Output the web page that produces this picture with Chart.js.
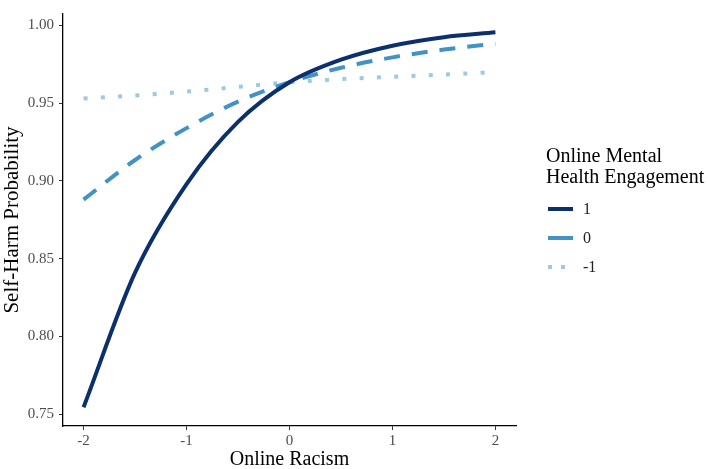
<!DOCTYPE html>
<html>
<head>
<meta charset="utf-8">
<script src="https://cdn.jsdelivr.net/npm/chart.js@4.4.1/dist/chart.umd.min.js"></script>
<style>
  html, body { margin: 0; padding: 0; background: #fff; }
  #wrap { width: 708px; height: 469px; position: relative; }
</style>
</head>
<body>
<div id="wrap"><canvas id="chart"></canvas></div>
<script>
// values
const racism = [-2, -1.5, -1, -0.5, 0, 0.5, 1, 1.5, 2];
const engagementHigh = [0.7545, 0.841, 0.898, 0.938, 0.9635, 0.978, 0.987, 0.9925, 0.9956];
const engagementMid = [0.888, 0.9135, 0.934, 0.951, 0.9635, 0.9728, 0.9795, 0.9845, 0.9883];
const engagementLow = [0.953, 0.955, 0.9575, 0.9605, 0.9635, 0.9655, 0.967, 0.9685, 0.970];
const legendLabels = ["1", "0", "-1"];
const legendTitle = ["Online Mental", "Health Engagement"];

const serif = "'Liberation Serif', 'DejaVu Serif', serif";

const toPoints = vals => racism.map((x, i) => ({ x: x, y: vals[i] }));

const legendPlugin = {
    id: 'sideLegend',
    afterDraw(chart) {
        const ctx = chart.ctx;
        ctx.save();
        ctx.fillStyle = '#000';
        ctx.font = `20px ${serif}`;
        ctx.textBaseline = 'alphabetic';
        ctx.fillText(legendTitle[0], 546, 162);
        ctx.fillText(legendTitle[1], 546, 183);

        chart.data.datasets.forEach((ds, i) => {
            const y = 209 + i * 29;
            ctx.beginPath();
            ctx.strokeStyle = ds.borderColor;
            ctx.lineWidth = ds.borderWidth;
            ctx.lineCap = 'butt';
            ctx.setLineDash(i === 2 ? [4, 9] : []);
            ctx.moveTo(548, y);
            ctx.lineTo(573, y);
            ctx.stroke();
            ctx.setLineDash([]);
            ctx.fillStyle = '#222';
            ctx.font = `16px ${serif}`;
            ctx.textBaseline = 'middle';
            ctx.fillText(legendLabels[i], 583, y + 1);
        });
        ctx.restore();
    }
};

new Chart(document.getElementById('chart'), {
    type: 'line',
    data: {
        datasets: [
            {
                label: legendLabels[0],
                data: toPoints(engagementHigh),
                borderColor: '#0b306b',
                borderWidth: 4,
                borderDash: [],
                cubicInterpolationMode: 'monotone',
                pointRadius: 0,
                fill: false
            },
            {
                label: legendLabels[1],
                data: toPoints(engagementMid),
                borderColor: '#4292c6',
                borderWidth: 4,
                borderDash: [16, 12],
                cubicInterpolationMode: 'monotone',
                pointRadius: 0,
                fill: false
            },
            {
                label: legendLabels[2],
                data: toPoints(engagementLow),
                borderColor: '#9ecae1',
                borderWidth: 4,
                borderDash: [4, 13.3],
                cubicInterpolationMode: 'monotone',
                pointRadius: 0,
                fill: false
            }
        ]
    },
    options: {
        responsive: true,
        maintainAspectRatio: false,
        animation: false,
        layout: { padding: { top: 3, right: 192, left: 0, bottom: 0 } },
        plugins: {
            legend: { display: false },
            tooltip: { enabled: false }
        },
        scales: {
            x: {
                type: 'linear',
                min: -2.2,
                max: 2.2,
                afterFit: s => { s.height = 43; },
                ticks: {
                    stepSize: 1,
                    includeBounds: false,
                    color: '#4d4d4d',
                    font: { family: serif, size: 15 },
                    padding: 2,
                    maxRotation: 0,
                    callback: v => Math.round(v).toString()
                },
                grid: { drawOnChartArea: false, drawTicks: true, tickLength: 4, color: '#333' },
                border: { display: true, color: '#000', width: 1.3 },
                title: {
                    display: true,
                    text: 'Online Racism',
                    color: '#000',
                    font: { family: serif, size: 20, lineHeight: 0.9 },
                    padding: { top: 0, bottom: 0 }
                }
            },
            y: {
                min: 0.7424,
                max: 1.0074,
                afterFit: s => { s.width = 63; },
                ticks: {
                    stepSize: 0.05,
                    includeBounds: false,
                    color: '#4d4d4d',
                    font: { family: serif, size: 15 },
                    padding: 5,
                    callback: v => v.toFixed(2)
                },
                grid: { drawOnChartArea: false, drawTicks: true, tickLength: 4, color: '#333' },
                border: { display: true, color: '#000', width: 1.3 },
                title: {
                    display: true,
                    text: 'Self-Harm Probability',
                    color: '#000',
                    font: { family: serif, size: 21 },
                    padding: { top: 0, bottom: 0 }
                }
            }
        }
    },
    plugins: [legendPlugin]
});
</script>
</body>
</html>
